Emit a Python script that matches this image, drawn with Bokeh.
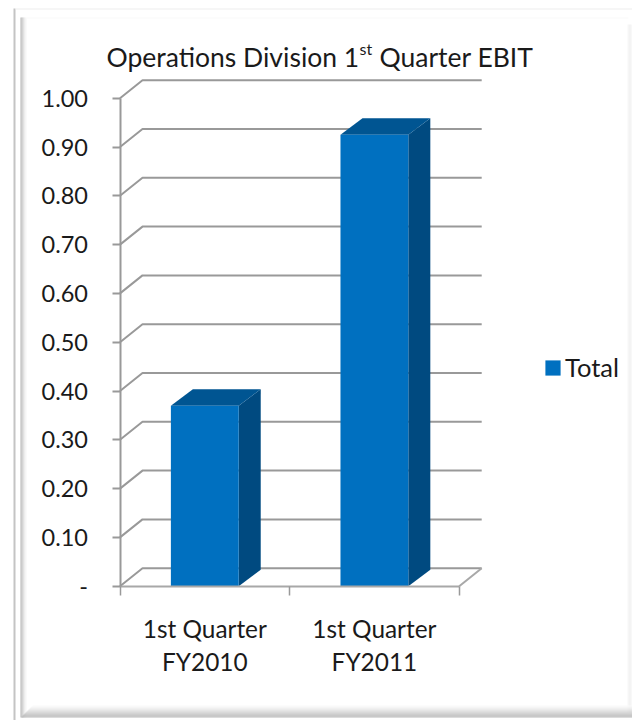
from bokeh.embed import file_html
from bokeh.models import (BoxAnnotation, FixedTicker, Label, Legend, LegendItem,
                          LinearAxis, Range1d)
from bokeh.plotting import figure
from bokeh.resources import INLINE

# Chart data
categories = ["1st Quarter\nFY2010", "1st Quarter\nFY2011"]
ebit = [0.37, 0.925]
value_ticks = [0.0, 0.1, 0.2, 0.3, 0.4, 0.5, 0.6, 0.7, 0.8, 0.9, 1.0]
value_labels = ["-", "0.10", "0.20", "0.30", "0.40", "0.50", "0.60", "0.70", "0.80", "0.90", "1.00"]
series_name = "Total"

FONT = "Lato"
INK = "#1a1a1a"
GRID = "#999999"
FRONT, SIDE, TOP = "#0070c0", "#004a80", "#005592"

WIDTH, HEIGHT = 632, 720
X0, X_UNIT = 119.5, 169.6   # pixel position of x=0 and pixels per category
Y0, Y_UNIT = 585.7, 488.0   # pixel position of y=0 and pixels per 1.0
DX, DY = 22.5 / X_UNIT, 18.0 / Y_UNIT   # depth of the 3D box in data units
BAR_DX, BAR_DY = 22.0 / X_UNIT, 16.5 / Y_UNIT   # depth of the bars
BAR_W = 0.40

p = figure(width=WIDTH, height=HEIGHT, output_backend="svg", toolbar_location=None,
           x_range=Range1d(-X0 / X_UNIT, (WIDTH - X0) / X_UNIT),
           y_range=Range1d((Y0 - HEIGHT) / Y_UNIT, Y0 / Y_UNIT),
           min_border=0, background_fill_color="white", border_fill_color="white",
           x_axis_type=None, y_axis_type=None, outline_line_color=None)
p.grid.visible = False

# Card border with its bevelled shading
def box(left, right, top, bottom, color, alpha=1.0):
    p.add_layout(BoxAnnotation(left=left, right=right, top=HEIGHT - top, bottom=HEIGHT - bottom,
                               left_units="screen", right_units="screen",
                               top_units="screen", bottom_units="screen",
                               fill_color=color, fill_alpha=alpha, line_color=None, level="underlay"))

box(13, 15, 8, 720, "#c4c4c4")
box(15, 632, 8, 9, "#eeeeee")
box(26, 628, 17, 18, "#f9f9f9")
for i, c in enumerate(["#f7f7f7", "#f2f2f2", "#eeeeee", "#f2f2f2"]):
    box(627 + i, 628 + i, 24, 712, c)
for i, c in enumerate(["#b4b4b4", "#bcbcbc", "#cccccc", "#dedede", "#ececec", "#f6f6f6"]):
    box(20 + i, 21 + i, 17, 717, c)
# The bottom edge is mitred into the left one, so lower rows start further left
bottom_rows = ["#fafafa", "#f5f5f5", "#f0f0f0", "#e9e9e9", "#e2e2e2", "#dadada",
               "#d2d2d2", "#cacaca", "#c2c2c2", "#bababa", "#b4b4b4", "#b8b8b8"]
for i, c in enumerate(bottom_rows):
    box(max(21, 32 - i), 632, 705 + i, 706 + i, c)

# Floor and wall gridlines of the 3D box
xs, ys = [], []
for v in value_ticks:
    xs.append([0, DX, 2 + DX])
    ys.append([v, v + DY, v + DY])
p.multi_line(xs, ys, line_color=GRID, line_width=2)
p.line([2, 2 + DX], [0, DY], line_color="#a8a8a8", line_width=2)

# Bars: front faces, side faces and top faces
lefts = [i + 0.5 - BAR_W / 2 for i in range(len(ebit))]
rights = [l + BAR_W for l in lefts]
p.patches([[r, r + BAR_DX, r + BAR_DX, r] for r in rights],
          [[0, BAR_DY, v + BAR_DY, v] for v in ebit], fill_color=SIDE, line_color=None)
p.patches([[l, l + BAR_DX, r + BAR_DX, r] for l, r in zip(lefts, rights)],
          [[v, v + BAR_DY, v + BAR_DY, v] for v in ebit], fill_color=TOP, line_color=None)
front = p.quad(left=lefts, right=rights, bottom=[0] * len(ebit), top=ebit,
               fill_color=FRONT, line_color=None)

# Value axis
yaxis = LinearAxis(fixed_location=0, bounds=(0, 1), ticker=FixedTicker(ticks=value_ticks),
                   major_label_overrides=dict(zip(value_ticks, value_labels)))
yaxis.axis_line_color = GRID
yaxis.axis_line_width = 2
yaxis.major_tick_line_color = GRID
yaxis.major_tick_line_width = 2
yaxis.major_tick_out = 8
yaxis.major_tick_in = 0
yaxis.minor_tick_line_color = None
yaxis.major_label_standoff = 24
yaxis.major_label_text_font = FONT
yaxis.major_label_text_font_size = "23.5px"
yaxis.major_label_text_color = INK
p.add_layout(yaxis, "left")

# Category boundaries carry the tick marks
xticks = LinearAxis(fixed_location=0, bounds=(0, 2), ticker=FixedTicker(ticks=[0, 1, 2]),
                    major_label_overrides={0: "", 1: "", 2: ""})
xticks.axis_line_color = "#a8a8a8"
xticks.axis_line_width = 2
xticks.major_tick_line_color = GRID
xticks.major_tick_line_width = 1.5
xticks.major_tick_out = 9
xticks.major_tick_in = 0
xticks.minor_tick_line_color = None
p.add_layout(xticks, "below")

# Category names sit between the boundaries
xlabels = LinearAxis(fixed_location=0, bounds=(0, 2), ticker=FixedTicker(ticks=[0.5, 1.5]),
                     major_label_overrides=dict(zip([0.5, 1.5], categories)))
xlabels.axis_line_color = None
xlabels.major_tick_line_color = None
xlabels.minor_tick_line_color = None
xlabels.major_tick_out = 0
xlabels.major_tick_in = 0
xlabels.major_label_standoff = 28
xlabels.major_label_text_font = FONT
xlabels.major_label_text_font_size = "24.4px"
xlabels.major_label_text_color = INK
xlabels.major_label_text_line_height = 1.12
p.add_layout(xlabels, "below")

# Title, with a raised ordinal suffix
def title_piece(text, x, y, size):
    p.add_layout(Label(x=x, y=HEIGHT - y, x_units="screen", y_units="screen", text=text,
                       text_font=FONT, text_font_size=size, text_color=INK,
                       text_baseline="alphabetic"))

title_piece("Operations Division 1", 106, 56, "26.5px")
title_piece("st", 359, 48, "16px")
title_piece("Quarter EBIT", 379, 56, "26.5px")

# Legend
legend = Legend(items=[LegendItem(label=series_name, renderers=[front])],
                location=(543, 338), orientation="vertical",
                background_fill_alpha=0, border_line_color=None,
                glyph_width=19, glyph_height=19, label_standoff=3,
                label_text_font=FONT, label_text_font_size="25.5px", label_text_color=INK)
p.add_layout(legend, "center")

open("out.html", "w").write(file_html(p, INLINE))
